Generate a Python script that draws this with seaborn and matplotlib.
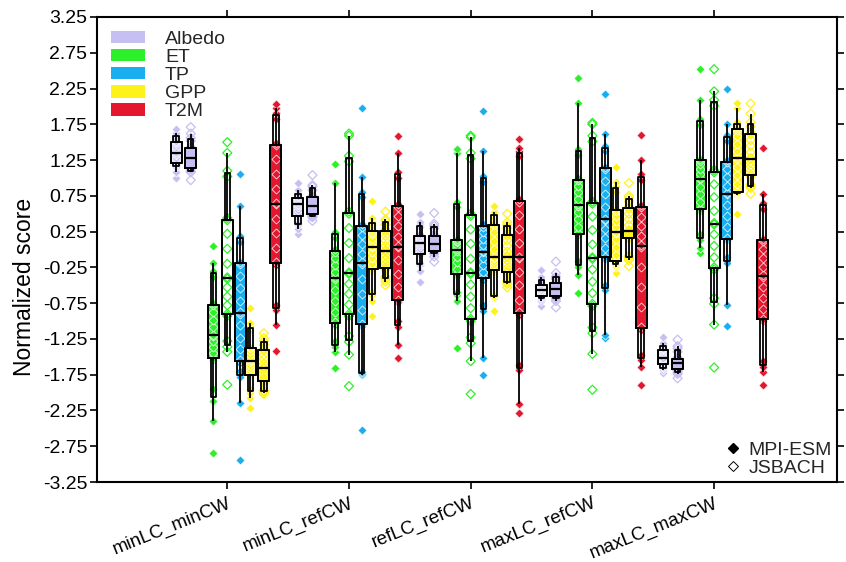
import numpy as np
import pandas as pd
import matplotlib
matplotlib.use("Agg")
import matplotlib.pyplot as plt
from matplotlib.patches import Patch
from matplotlib.lines import Line2D
from matplotlib.ticker import FormatStrFormatter
import seaborn as sns

scenarios = ["minLC_minCW", "minLC_refCW", "refLC_refCW", "maxLC_refCW", "maxLC_maxCW"]
variables = ["Albedo", "ET", "TP", "GPP", "T2M"]
colors = {"Albedo": "#c6bff2", "ET": "#2ef02a", "TP": "#18aef0", "GPP": "#fff21a", "T2M": "#e3172e"}

# normalized scores per scenario (one list per scenario)
albedo_mpi = [
    [1.00, 1.08, 1.15, 1.18, 1.20, 1.22, 1.25, 1.28, 1.32, 1.34, 1.36, 1.40, 1.43, 1.47, 1.50, 1.52, 1.56, 1.60, 1.63, 1.68],
    [0.21, 0.28, 0.34, 0.37, 0.46, 0.48, 0.51, 0.55, 0.59, 0.62, 0.64, 0.66, 0.68, 0.70, 0.71, 0.73, 0.75, 0.79, 0.83, 0.93],
    [-0.46, -0.30, -0.22, -0.19, -0.08, -0.06, -0.03, 0.01, 0.05, 0.08, 0.10, 0.13, 0.15, 0.18, 0.19, 0.21, 0.31, 0.35, 0.38, 0.50],
    [-0.79, -0.72, -0.69, -0.67, -0.66, -0.64, -0.62, -0.60, -0.59, -0.58, -0.56, -0.54, -0.53, -0.51, -0.50, -0.48, -0.45, -0.42, -0.38, -0.28],
    [-1.73, -1.68, -1.66, -1.64, -1.62, -1.60, -1.58, -1.56, -1.54, -1.53, -1.51, -1.48, -1.45, -1.43, -1.41, -1.39, -1.37, -1.34, -1.30, -1.22],
]
albedo_jsb = [
    [0.97, 1.08, 1.09, 1.12, 1.13, 1.15, 1.18, 1.21, 1.25, 1.27, 1.29, 1.32, 1.35, 1.39, 1.41, 1.43, 1.52, 1.56, 1.62, 1.71],
    [0.40, 0.45, 0.46, 0.48, 0.48, 0.50, 0.53, 0.56, 0.58, 0.60, 0.62, 0.65, 0.68, 0.71, 0.73, 0.75, 0.83, 0.88, 0.90, 1.04],
    [-0.17, -0.10, -0.06, -0.04, -0.03, -0.01, 0.02, 0.04, 0.06, 0.07, 0.09, 0.12, 0.14, 0.17, 0.18, 0.20, 0.29, 0.33, 0.36, 0.51],
    [-0.81, -0.72, -0.69, -0.67, -0.67, -0.65, -0.62, -0.60, -0.58, -0.56, -0.54, -0.52, -0.50, -0.49, -0.48, -0.46, -0.41, -0.38, -0.33, -0.17],
    [-1.80, -1.74, -1.72, -1.70, -1.69, -1.67, -1.65, -1.63, -1.61, -1.60, -1.58, -1.57, -1.55, -1.54, -1.53, -1.51, -1.43, -1.38, -1.35, -1.26],
]
et_mpi = [
    [-2.84, -2.40, -2.12, -1.95, -1.54, -1.51, -1.44, -1.36, -1.28, -1.21, -1.19, -1.09, -0.99, -0.88, -0.78, -0.75, -0.38, -0.30, -0.19, 0.05],
    [-1.66, -1.43, -1.36, -1.28, -1.05, -1.02, -0.87, -0.72, -0.56, -0.41, -0.39, -0.31, -0.21, -0.12, -0.03, 0.00, 0.16, 0.24, 0.93, 1.19],
    [-1.38, -0.72, -0.64, -0.59, -0.37, -0.34, -0.27, -0.18, -0.10, -0.02, 0.00, 0.03, 0.06, 0.10, 0.12, 0.15, 0.59, 0.67, 1.35, 1.40],
    [-0.61, -0.35, -0.24, -0.16, 0.20, 0.23, 0.32, 0.42, 0.52, 0.61, 0.63, 0.71, 0.80, 0.89, 0.97, 1.00, 1.32, 1.40, 2.05, 2.40],
    [-0.05, 0.02, 0.13, 0.21, 0.54, 0.57, 0.67, 0.78, 0.88, 0.98, 1.00, 1.06, 1.12, 1.19, 1.24, 1.27, 1.74, 1.82, 2.09, 2.52],
]
et_jsb = [
    [-1.89, -1.43, -1.36, -1.28, -0.93, -0.90, -0.78, -0.66, -0.53, -0.41, -0.39, -0.20, 0.01, 0.22, 0.41, 0.44, 1.02, 1.10, 1.35, 1.50],
    [-1.91, -1.47, -1.29, -1.21, -0.93, -0.90, -0.77, -0.62, -0.48, -0.34, -0.32, -0.12, 0.09, 0.30, 0.50, 0.53, 1.23, 1.31, 1.59, 1.62],
    [-2.02, -1.56, -1.31, -1.23, -1.00, -0.97, -0.82, -0.66, -0.49, -0.34, -0.32, -0.13, 0.08, 0.28, 0.47, 0.50, 1.27, 1.35, 1.57, 1.59],
    [-1.96, -1.46, -1.17, -1.09, -0.79, -0.76, -0.61, -0.45, -0.28, -0.13, -0.11, 0.07, 0.27, 0.46, 0.64, 0.67, 1.51, 1.59, 1.75, 1.77],
    [-1.65, -1.05, -0.76, -0.68, -0.28, -0.25, -0.11, 0.05, 0.21, 0.35, 0.37, 0.54, 0.73, 0.91, 1.08, 1.11, 2.01, 2.09, 2.21, 2.52],
]
tp_mpi = [
    [-2.94, -2.14, -1.78, -1.70, -1.58, -1.55, -1.39, -1.23, -1.06, -0.90, -0.88, -0.72, -0.54, -0.37, -0.20, -0.17, 0.11, 0.19, 0.61, 1.06],
    [-2.52, -1.75, -1.74, -1.71, -1.07, -1.04, -0.84, -0.62, -0.41, -0.20, -0.18, -0.06, 0.07, 0.20, 0.32, 0.35, 0.73, 0.81, 1.02, 1.98],
    [-1.75, -1.51, -0.86, -0.78, -0.42, -0.39, -0.31, -0.22, -0.12, -0.04, -0.02, 0.06, 0.15, 0.24, 0.32, 0.35, 0.95, 1.03, 1.38, 1.94],
    [-1.23, -1.19, -0.57, -0.49, -0.13, -0.10, 0.02, 0.16, 0.29, 0.41, 0.43, 0.60, 0.78, 0.96, 1.13, 1.16, 1.37, 1.45, 1.61, 2.18],
    [-1.07, -0.78, -0.19, -0.11, 0.13, 0.16, 0.31, 0.47, 0.62, 0.77, 0.79, 0.89, 1.01, 1.12, 1.22, 1.25, 1.52, 1.60, 1.76, 2.24],
]
gpp_mpi = [
    [-2.21, -2.08, -2.00, -1.95, -1.77, -1.74, -1.70, -1.66, -1.61, -1.57, -1.55, -1.51, -1.47, -1.42, -1.38, -1.36, -1.13, -1.07, -1.03, -0.82],
    [-0.93, -0.72, -0.64, -0.59, -0.30, -0.27, -0.20, -0.12, -0.04, 0.03, 0.05, 0.10, 0.15, 0.21, 0.25, 0.28, 0.34, 0.39, 0.44, 0.68],
    [-0.86, -0.68, -0.66, -0.63, -0.31, -0.28, -0.25, -0.20, -0.16, -0.12, -0.10, 0.01, 0.12, 0.24, 0.34, 0.37, 0.45, 0.50, 0.52, 0.61],
    [-0.33, -0.25, -0.22, -0.19, -0.18, -0.16, -0.07, 0.04, 0.14, 0.23, 0.25, 0.32, 0.40, 0.47, 0.54, 0.57, 0.81, 0.89, 0.95, 1.16],
    [0.49, 0.76, 0.78, 0.79, 0.79, 0.81, 0.92, 1.04, 1.16, 1.27, 1.29, 1.38, 1.48, 1.58, 1.67, 1.70, 1.72, 1.78, 1.98, 2.05],
]
gpp_jsb = [
    [-2.02, -2.00, -1.99, -1.97, -1.85, -1.83, -1.80, -1.75, -1.71, -1.67, -1.65, -1.60, -1.53, -1.47, -1.41, -1.39, -1.33, -1.28, -1.24, -1.17],
    [-0.50, -0.45, -0.41, -0.38, -0.28, -0.25, -0.20, -0.14, -0.08, -0.03, -0.01, 0.05, 0.12, 0.19, 0.25, 0.28, 0.35, 0.40, 0.42, 0.53],
    [-0.53, -0.48, -0.47, -0.44, -0.33, -0.30, -0.26, -0.21, -0.15, -0.11, -0.09, -0.03, 0.05, 0.13, 0.19, 0.22, 0.30, 0.34, 0.38, 0.50],
    [-0.23, -0.15, -0.12, -0.09, 0.15, 0.17, 0.18, 0.21, 0.23, 0.25, 0.27, 0.34, 0.42, 0.50, 0.57, 0.60, 0.67, 0.72, 0.75, 0.93],
    [0.78, 0.86, 0.88, 0.91, 1.02, 1.05, 1.10, 1.16, 1.21, 1.26, 1.28, 1.36, 1.45, 1.53, 1.61, 1.64, 1.72, 1.78, 1.90, 2.04],
]
t2m_mpi = [
    [-1.42, -1.05, -0.85, -0.77, -0.21, -0.18, 0.02, 0.23, 0.43, 0.63, 0.65, 0.85, 1.06, 1.26, 1.46, 1.49, 1.83, 1.91, 1.98, 2.04],
    [-1.51, -1.33, -1.08, -1.00, -0.73, -0.70, -0.52, -0.34, -0.15, 0.03, 0.05, 0.18, 0.33, 0.47, 0.60, 0.63, 1.00, 1.08, 1.35, 1.59],
    [-2.28, -2.16, -1.69, -1.61, -0.91, -0.88, -0.70, -0.50, -0.31, -0.12, -0.10, 0.09, 0.29, 0.48, 0.67, 0.70, 1.30, 1.38, 1.42, 1.54],
    [-1.90, -1.64, -1.55, -1.47, -1.12, -1.09, -0.81, -0.53, -0.24, 0.04, 0.06, 0.19, 0.33, 0.46, 0.59, 0.62, 0.97, 1.05, 1.25, 1.60],
    [-1.90, -1.71, -1.64, -1.56, -1.00, -0.97, -0.83, -0.68, -0.52, -0.38, -0.36, -0.25, -0.12, 0.01, 0.12, 0.15, 0.57, 0.65, 0.78, 1.42],
]

# variable, model, offset from the scenario tick, values
series = [
    ("Albedo", "MPI-ESM", -0.42, albedo_mpi),
    ("Albedo", "JSBACH", -0.30, albedo_jsb),
    ("ET", "MPI-ESM", -0.115, et_mpi),
    ("ET", "JSBACH", 0.0, et_jsb),
    ("TP", "MPI-ESM", 0.105, tp_mpi),
    ("GPP", "MPI-ESM", 0.19, gpp_mpi),
    ("GPP", "JSBACH", 0.30, gpp_jsb),
    ("T2M", "MPI-ESM", 0.40, t2m_mpi),
]

sns.set_theme(style="ticks")
plt.rcParams["font.family"] = ["Liberation Sans", "DejaVu Sans"]

fig = plt.figure(figsize=(8.46, 5.62), dpi=100)
ax = fig.add_axes([0.1147, 0.1423, 0.8747, 0.8275])

bw = 0.09
hidden = {"visible": False}
for var, model, off, vals in series:
    df = pd.DataFrame({
        "pos": np.repeat(np.arange(len(scenarios)) + off, [len(v) for v in vals]),
        "value": np.concatenate(vals),
    })
    col = colors[var]
    # coloured fill of the inner box (MPI-ESM and albedo)
    if model == "MPI-ESM" or var == "Albedo":
        sns.boxplot(data=df, x="pos", y="value", native_scale=True, width=bw,
                    fill=True, color=col, saturation=1, linecolor=col, linewidth=0.1,
                    showcaps=False, showfliers=False, whiskerprops=hidden,
                    medianprops=hidden, ax=ax, zorder=1)
    n0 = len(ax.collections)
    sns.stripplot(data=df, x="pos", y="value", native_scale=True, jitter=False,
                  marker="D", size=4.6, color=col, edgecolor="white", linewidth=0.5,
                  ax=ax, zorder=1.5)
    if model == "JSBACH":
        for coll in ax.collections[n0:]:
            coll.set_facecolor("none")
            coll.set_edgecolor(col)
            coll.set_linewidth(0.9)
    sns.boxplot(data=df, x="pos", y="value", native_scale=True, width=bw, whis=(5, 95),
                fill=False, color="black", linewidth=1.3, showcaps=False, showfliers=False,
                ax=ax, zorder=3)
    sns.boxenplot(data=df, x="pos", y="value", native_scale=True, width=bw, k_depth=2,
                  fill=False, color="black", linewidth=1.3, showfliers=False,
                  ax=ax, zorder=3)

ax.set_xlim(-1.07, 5.01)
ax.set_ylim(-3.25, 3.25)
ax.set_yticks(np.arange(-3.25, 3.26, 0.5))
ax.yaxis.set_major_formatter(FormatStrFormatter("%.2f"))
ax.set_xticks(range(len(scenarios)))
ax.set_xticklabels(scenarios, rotation=22, ha="right", rotation_mode="anchor")
ax.tick_params(direction="out", length=5, width=1.2, top=True, right=True,
               labelsize=14, color="black", labelcolor="black", pad=2)
ax.tick_params(axis="x", pad=4, labelsize=13.5)
ax.set_xlabel("")
ax.set_ylabel("Normalized score", fontsize=16.5, color="black")
ax.yaxis.set_label_coords(-0.082, 0.42)
for s in ax.spines.values():
    s.set_linewidth(1.5)
    s.set_color("black")

h1 = [Patch(facecolor=colors[v], edgecolor="none", label=v) for v in variables]
leg1 = ax.legend(handles=h1, loc="upper left", frameon=False, fontsize=14,
                 handlelength=1.75, handleheight=0.62, handletextpad=1.05,
                 labelspacing=0.05, borderaxespad=0.4, borderpad=0.3)
ax.add_artist(leg1)
h2 = [Line2D([], [], ls="none", marker="D", color="black", markersize=5, label="MPI-ESM"),
      Line2D([], [], ls="none", marker="D", mfc="none", mec="black", mew=0.7,
             markersize=5, label="JSBACH")]
ax.legend(handles=h2, loc="lower right", frameon=False, fontsize=14,
          handlelength=0.8, handletextpad=0.4, labelspacing=0.05,
          borderaxespad=0.15, borderpad=0.1)

fig.savefig("out.png", dpi=100)
